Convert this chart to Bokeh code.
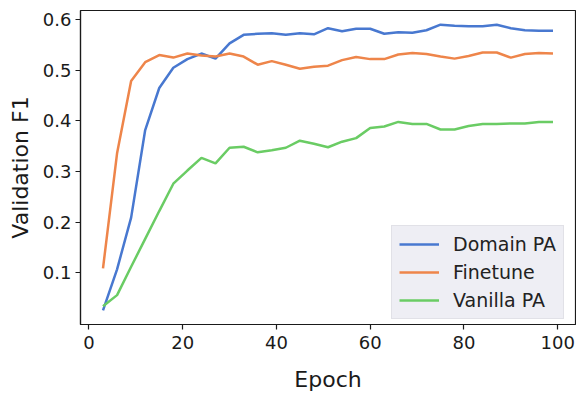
from bokeh.plotting import figure
from bokeh.models import Range1d, FixedTicker, Legend, LegendItem
from bokeh.embed import file_html
from bokeh.resources import INLINE

epochs = [3, 6, 9, 12, 15, 18, 21, 24, 27, 30, 33, 36, 39, 42, 45, 48, 51, 54, 57, 60,
          63, 66, 69, 72, 75, 78, 81, 84, 87, 90, 93, 96, 99]

domain_pa = [0.026, 0.107, 0.209, 0.382, 0.465, 0.505, 0.522, 0.533, 0.523, 0.553, 0.570,
             0.572, 0.573, 0.570, 0.573, 0.571, 0.583, 0.577, 0.582, 0.582, 0.572, 0.575,
             0.574, 0.579, 0.590, 0.588, 0.587, 0.587, 0.590, 0.583, 0.579, 0.578, 0.578]

finetune = [0.109, 0.336, 0.479, 0.516, 0.530, 0.525, 0.533, 0.529, 0.527, 0.533, 0.527,
            0.511, 0.518, 0.511, 0.503, 0.507, 0.509, 0.520, 0.526, 0.522, 0.522, 0.531,
            0.534, 0.532, 0.527, 0.523, 0.528, 0.535, 0.535, 0.525, 0.532, 0.534, 0.533]

vanilla_pa = [0.034, 0.056, 0.112, 0.167, 0.222, 0.276, 0.302, 0.327, 0.316, 0.347, 0.349,
              0.338, 0.342, 0.347, 0.361, 0.355, 0.348, 0.359, 0.366, 0.386, 0.389, 0.398,
              0.394, 0.394, 0.383, 0.383, 0.390, 0.394, 0.394, 0.395, 0.395, 0.398, 0.398]

series_names = ["Domain PA", "Finetune", "Vanilla PA"]
series_colors = ["#4878d0", "#ee854a", "#6acc64"]

x_ticks = [0, 20, 40, 60, 80, 100]
y_ticks = [0.1, 0.2, 0.3, 0.4, 0.5, 0.6]

p = figure(width=576, height=394, output_backend="svg", toolbar_location=None,
           x_range=Range1d(-1.8, 103.8), y_range=Range1d(-0.002, 0.618),
           min_border_left=80, min_border_right=1, min_border_top=10, min_border_bottom=65)

p.background_fill_color = "white"
p.border_fill_color = "white"
p.outline_line_color = "#1a1a1a"
p.outline_line_width = 1.2
p.xgrid.visible = False
p.ygrid.visible = False

items = []
for name, col, vals in zip(series_names, series_colors, [domain_pa, finetune, vanilla_pa]):
    r = p.line(epochs, vals, line_color=col, line_width=2.5)
    items.append(LegendItem(label=name, renderers=[r]))

for ax in (p.xaxis[0], p.yaxis[0]):
    ax.axis_line_color = "#1a1a1a"
    ax.axis_line_width = 1.2
    ax.major_tick_line_color = "#1a1a1a"
    ax.major_tick_line_width = 1.2
    ax.major_tick_out = 5
    ax.major_tick_in = 0
    ax.minor_tick_line_color = None
    ax.major_label_text_font = "DejaVu Sans"
    ax.major_label_text_font_size = "18px"
    ax.major_label_text_color = "#1a1a1a"
    ax.axis_label_text_font = "DejaVu Sans"
    ax.axis_label_text_font_size = "22px"
    ax.axis_label_text_font_style = "normal"
    ax.axis_label_text_color = "#1a1a1a"

p.xaxis.ticker = FixedTicker(ticks=x_ticks)
p.yaxis.ticker = FixedTicker(ticks=y_ticks)
p.xaxis.axis_label = "Epoch"
p.yaxis.axis_label = "Validation F1"
p.xaxis.major_label_standoff = 6
p.yaxis.major_label_standoff = 4
p.xaxis.axis_label_standoff = 15
p.yaxis.axis_label_standoff = 7

legend = Legend(items=items, location=(311, 5))
legend.margin = 0
legend.padding = 7
legend.spacing = 6
legend.glyph_width = 40
legend.glyph_height = 22
legend.label_height = 22
legend.label_standoff = 14
legend.label_text_font = "DejaVu Sans"
legend.label_text_font_size = "19px"
legend.label_text_color = "#222222"
legend.background_fill_color = "#eeeef4"
legend.background_fill_alpha = 1.0
legend.border_line_color = "#d4d4da"
legend.border_line_width = 1
p.add_layout(legend)

open("out.html", "w").write(file_html(p, INLINE))
